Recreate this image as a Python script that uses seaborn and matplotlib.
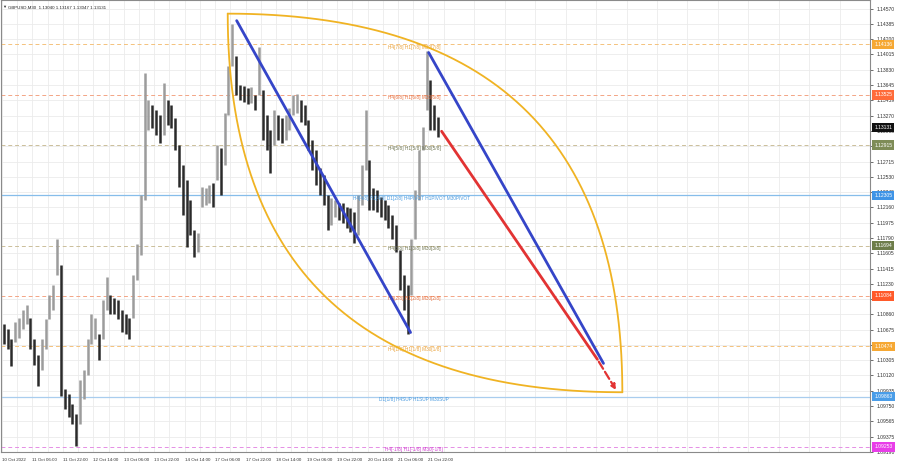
import numpy as np
import matplotlib
matplotlib.use("Agg")
import matplotlib.pyplot as plt
import seaborn as sns

# ==========================================================
# Data
# ==========================================================

title_text = "GBPUSD,M30  1.13040 1.13167 1.13047 1.13131"

# two-hour bars (high / low)
bar_high = [
    1.1074, 1.1068, 1.1056, 1.1077, 1.1082, 1.1092, 1.1098, 1.1082, 1.1056, 1.1037,
    1.1056, 1.1080, 1.1110, 1.1122, 1.1177, 1.1146, 1.0995, 1.0989, 1.0977, 1.0965,
    1.1007, 1.1019, 1.1056, 1.1086, 1.1082, 1.1062, 1.1104, 1.1132, 1.1110, 1.1106,
    1.1104, 1.1092, 1.1086, 1.1082, 1.1134, 1.1171, 1.1231, 1.1379, 1.1346, 1.1340,
    1.1334, 1.1328, 1.1367, 1.1346, 1.1340, 1.1324, 1.1292, 1.1267, 1.1249, 1.1225,
    1.1189, 1.1185, 1.1241, 1.1240, 1.1243, 1.1246, 1.1292, 1.1288, 1.1331, 1.1388,
    1.1439, 1.1400, 1.1364, 1.1363, 1.1361, 1.1362, 1.1352, 1.1410, 1.1358, 1.1328,
    1.1310, 1.1334, 1.1328, 1.1324, 1.1328, 1.1336, 1.1352, 1.1354, 1.1346, 1.1340,
    1.1322, 1.1298, 1.1286, 1.1264, 1.1255, 1.1231, 1.1227, 1.1225, 1.1221, 1.1221,
    1.1216, 1.1215, 1.1210, 1.1231, 1.1267, 1.1334, 1.1273, 1.1240, 1.1237, 1.1229,
    1.1225, 1.1219, 1.1207, 1.1195, 1.1164, 1.1134, 1.1122, 1.1177, 1.1237, 1.1286,
    1.1313, 1.1406, 1.1370, 1.1340, 1.1325,
]
bar_low = [
    1.1050, 1.1044, 1.1023, 1.1053, 1.1058, 1.1068, 1.1074, 1.1044, 1.1025, 1.0999,
    1.1019, 1.1044, 1.1080, 1.1092, 1.1134, 1.0987, 1.0971, 1.0962, 1.0953, 1.0926,
    1.0953, 1.0983, 1.1013, 1.1050, 1.1056, 1.1031, 1.1056, 1.1092, 1.1086, 1.1086,
    1.1080, 1.1065, 1.1062, 1.1056, 1.1082, 1.1128, 1.1158, 1.1225, 1.1310, 1.1312,
    1.1304, 1.1294, 1.1304, 1.1316, 1.1312, 1.1286, 1.1241, 1.1207, 1.1168, 1.1183,
    1.1156, 1.1162, 1.1216, 1.1219, 1.1221, 1.1216, 1.1249, 1.1231, 1.1267, 1.1328,
    1.1388, 1.1352, 1.1346, 1.1344, 1.1341, 1.1342, 1.1334, 1.1352, 1.1298, 1.1286,
    1.1258, 1.1292, 1.1298, 1.1294, 1.1298, 1.1310, 1.1328, 1.1331, 1.1319, 1.1316,
    1.1286, 1.1261, 1.1243, 1.1231, 1.1219, 1.1189, 1.1195, 1.1204, 1.1201, 1.1197,
    1.1191, 1.1186, 1.1173, 1.1183, 1.1219, 1.1261, 1.1213, 1.1213, 1.1210, 1.1204,
    1.1201, 1.1191, 1.1177, 1.1162, 1.1116, 1.1092, 1.1062, 1.1110, 1.1177, 1.1225,
    1.1286, 1.1334, 1.1310, 1.1310, 1.1301,
]
bar_hours = 2

time_tick_hours = [0, 16, 32, 48, 64, 80, 96, 112, 128, 144, 160, 176, 192, 208, 224]
time_tick_labels = [
    "10 Oct 2022", "11 Oct 06:00", "11 Oct 22:00", "12 Oct 14:00", "13 Oct 06:00",
    "13 Oct 22:00", "14 Oct 14:00", "17 Oct 06:00", "17 Oct 22:00", "18 Oct 14:00",
    "19 Oct 06:00", "19 Oct 22:00", "20 Oct 14:00", "21 Oct 06:00", "21 Oct 22:00",
]

price_ticks = [
    1.14570, 1.14385, 1.14200, 1.14015, 1.13830, 1.13645, 1.13459, 1.13270, 1.13085,
    1.12900, 1.12715, 1.12530, 1.12345, 1.12160, 1.11975, 1.11790, 1.11605, 1.11415,
    1.11230, 1.11045, 1.10860, 1.10675, 1.10490, 1.10305, 1.10120, 1.09935, 1.09750,
    1.09565, 1.09375, 1.09190,
]

level_prices = [1.14136, 1.13525, 1.12915, 1.12305, 1.11694, 1.11084, 1.10474, 1.09863, 1.09253]
level_texts = [
    "H4[7/8] H1[7/8] M30[7/8]",
    "H4[6/8] H1[6/8] M30[6/8]",
    "H4[5/8] H1[5/8] M30[5/8]",
    "H4[4/8] H1[4/8] D1[2/8] H4PIVOT H1PIVOT M30PIVOT",
    "H4[3/8] H1[3/8] M30[3/8]",
    "H4[2/8] H1[2/8] M30[2/8]",
    "H4[1/8] H1[1/8] M30[1/8]",
    "D1[1/8] H4SUP H1SUP M30SUP",
    "H4[-1/8] H1[-1/8] M30[-1/8]",
]
current_price = 1.13131

# drawn objects (time in hours, price)
blue_a_hours = [123.3, 214.6]
blue_a_prices = [1.14425, 1.10641]
blue_b_hours = [224.1, 315.9]
blue_b_prices = [1.14038, 1.10266]
red_hours = [230.9, 312.7]
red_prices = [1.13083, 1.10315]
red_tip_hour = 323.2
red_tip_price = 1.09916
arc_start = (118.6, 1.14510)
arc_end = (325.8, 1.09916)

# ==========================================================
# Styles
# ==========================================================

level_text_hour = [202.5, 202.5, 202.5, 184.2, 202.5, 202.5, 202.5, 197.8, 201]
level_line_colors = ["#f4c27c", "#f3a585", "#cbbf9a", "#86bdea", "#cbbf9a",
                     "#f3a585", "#f4c27c", "#a9cdee", "#e58ee5"]
level_line_styles = ["--", "--", "--", "-", "--", "--", "--", "-", "--"]
level_text_colors = ["#e9a23b", "#e8703f", "#6f7550", "#4a9be0", "#6f7550",
                     "#e8703f", "#e9a23b", "#4a9be0", "#d040d0"]
level_box_colors = ["#f6a833", "#ff6b3a", "#7e8c57", "#3f94e6", "#6e7d4a",
                    "#ff5a2a", "#f6a833", "#4a9de8", "#e83ee8"]

sns.set_style("white")
plt.rcParams["font.family"] = ["Liberation Sans", "DejaVu Sans"]

fig = plt.figure(figsize=(9, 4.68), dpi=100)
ax = fig.add_axes([0.001, 0.034, 0.966, 0.965])

ax.set_xlim(-0.5, 456)
ax.set_ylim(1.0920, 1.1467)

# ==========================================================
# Grid and axes
# ==========================================================

ax.set_xticks(time_tick_hours)
ax.set_xticklabels(time_tick_labels, ha="left")
ax.set_xticks(np.arange(8, 456, 16), minor=True)
ax.yaxis.tick_right()
ax.set_yticks(price_ticks)
ax.set_yticklabels([f"{p:.5f}" for p in price_ticks])
ax.tick_params(axis="y", labelsize=3.6, length=2, width=0.5, pad=2.5,
               colors="#333333")
ax.tick_params(axis="x", labelsize=3.2, length=2, width=0.5, pad=2,
               colors="#333333")
ax.tick_params(axis="x", which="minor", length=0)
ax.grid(True, which="both", color="#ebebeb", lw=0.6)
for side in ax.spines:
    ax.spines[side].set_color("#8a8a8a")
    ax.spines[side].set_linewidth(0.8)

# ==========================================================
# Levels
# ==========================================================

for i, price in enumerate(level_prices):
    dashed = level_line_styles[i] == "--"
    ax.axhline(price, color=level_line_colors[i], lw=0.7 if dashed else 0.9,
               dashes=(4, 3) if dashed else (None, None), zorder=1)
    ax.text(level_text_hour[i], price - 0.00006, level_texts[i], va="top",
            ha="left", fontsize=3.4, color=level_text_colors[i], zorder=3)

# ==========================================================
# Price bars
# ==========================================================

bar_x = [bar_hours * j + 1 for j in range(len(bar_high))]
mids = [(h + l) / 2 for h, l in zip(bar_high, bar_low)]
colors = ["#9c9c9c" if j > 0 and mids[j] > mids[j - 1] else "#2a2a2a"
          for j in range(len(mids))]
ax.vlines(bar_x, bar_low, bar_high, colors=colors, lw=1.8, zorder=2)

# ==========================================================
# Drawn objects
# ==========================================================

t = np.linspace(0, 1, 200)
x0, y0 = arc_start
x2, y2 = arc_end
for cx, cy in [(x2, y0), (x0, y2)]:
    ax.plot((1 - t) ** 2 * x0 + 2 * (1 - t) * t * cx + t ** 2 * x2,
            (1 - t) ** 2 * y0 + 2 * (1 - t) * t * cy + t ** 2 * y2,
            color="#f0b323", lw=1.3, zorder=4)

sns.lineplot(x=blue_a_hours, y=blue_a_prices, ax=ax, color="#3545c8", lw=2, zorder=5)
sns.lineplot(x=blue_b_hours, y=blue_b_prices, ax=ax, color="#3545c8", lw=2, zorder=5)
sns.lineplot(x=red_hours, y=red_prices, ax=ax, color="#e23333", lw=2, zorder=5)
ax.annotate("", xy=(red_tip_hour, red_tip_price), xytext=(red_hours[-1], red_prices[-1]),
            arrowprops=dict(arrowstyle="-|>", color="#e23333", lw=1.6, ls="--",
                            mutation_scale=7), zorder=5)

# ==========================================================
# Price boxes on the right axis
# ==========================================================

ytrans = ax.get_yaxis_transform()
for price, box in list(zip(level_prices, level_box_colors)) + [(current_price, "#111111")]:
    ax.text(1.0045, price, f"{price:.5f}", transform=ytrans, va="center", ha="left",
            fontsize=3.6, color="white", zorder=6, clip_on=False,
            bbox=dict(boxstyle="square,pad=0.45", fc=box, ec="none"))

ax.text(0.002, 0.985, "▼", transform=ax.transAxes, fontsize=3, color="#333333",
        va="center")
ax.text(0.008, 0.985, title_text, transform=ax.transAxes, fontsize=3.2,
        color="#222222", va="center")

fig.savefig("out.png", dpi=100)
plt.close(fig)
